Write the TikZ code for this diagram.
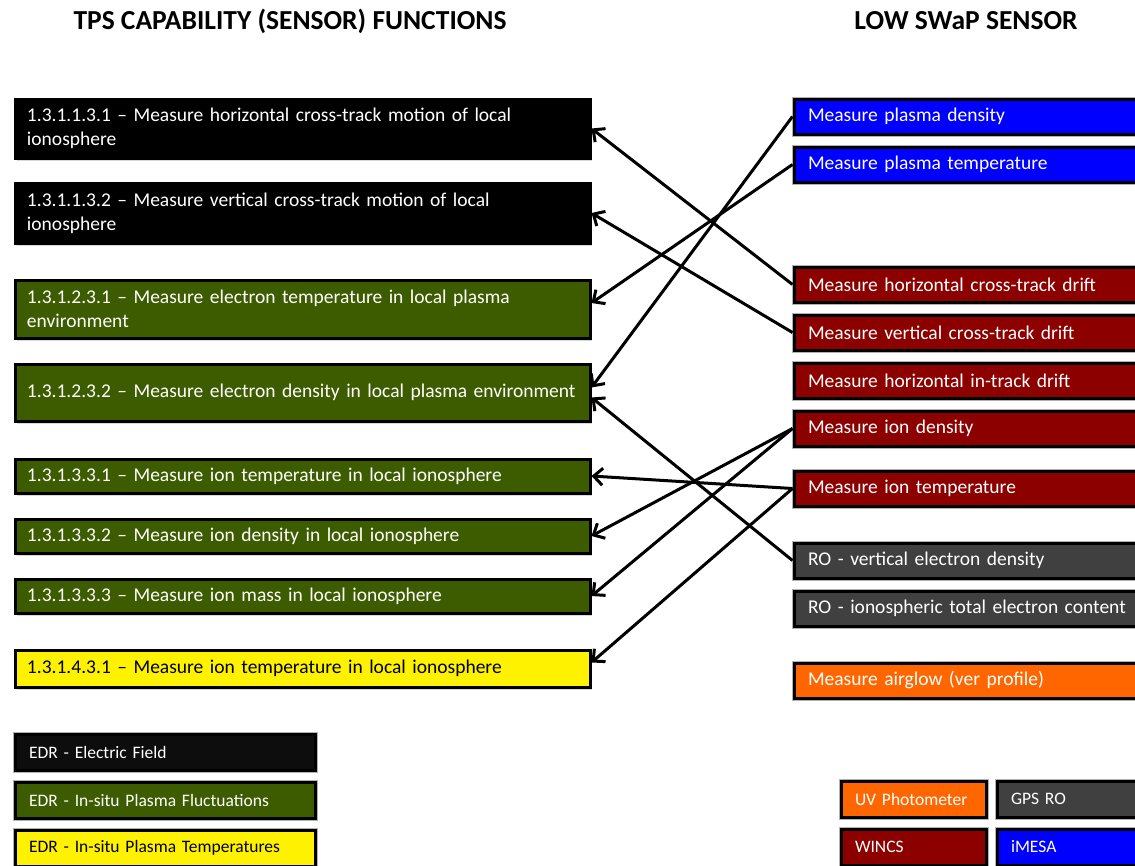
\documentclass[tikz,border=0pt]{standalone}
\usepackage{fontspec}
\setmainfont{Carlito}
\usetikzlibrary{arrows.meta,shadows}
\definecolor{edrblack}{HTML}{0D0D0D}
\definecolor{edrgreen}{HTML}{3D5C00}
\definecolor{wincsred}{HTML}{8C0000}
\definecolor{rogray}{HTML}{404040}
\definecolor{uvorange}{HTML}{FF6600}
\tikzset{
  func/.style={draw=black, line width=3pt, anchor=north west, align=left,
    inner xsep=12pt, text width=551pt, minimum width=575pt,
    font=\fontsize{19.5}{24}\selectfont,
    drop shadow={shadow xshift=2pt, shadow yshift=-3pt, fill=black!30}},
  sensor/.style={draw=black, line width=3pt, anchor=north west, align=left,
    inner xsep=14pt, text width=342pt, minimum width=370pt, minimum height=35pt,
    font=\fontsize{19.5}{24}\selectfont, text=white,
    preaction={draw=black!30, line width=5pt}},
  key/.style={draw=black, line width=3pt, anchor=north west, align=left,
    inner xsep=14pt, minimum height=36pt, font=\fontsize{17.5}{20}\selectfont,
    preaction={draw=black!30, line width=5pt}},
  title/.style={font=\fontsize{27.5}{32}\selectfont\bfseries},
  link/.style={-{Straight Barb[length=9pt,width=17pt]}, line width=3pt}
}
\begin{document}
\begin{tikzpicture}[x=1pt,y=-1pt]
\clip (0,0) rectangle (1135,865);
\node [title] (tpstitle) at (290,21) {TPS CAPABILITY (SENSOR) FUNCTIONS};
\node [title] (swaptitle) at (966,21) {LOW SWaP SENSOR};
% capability functions
\node [func,fill=black,text=white,minimum height=59pt] (horizmotion) at (13.5,97.5) {1.3.1.1.3.1 -- Measure horizontal cross-track motion of local\\ionosphere};
\node [func,fill=black,text=white,minimum height=60pt] (vertmotion) at (13.5,181.5) {1.3.1.1.3.2 -- Measure vertical cross-track motion of local\\ionosphere};
\node [func,fill=edrgreen,text=white,minimum height=58pt] (electemp) at (13.5,278.5) {1.3.1.2.3.1 -- Measure electron temperature in local plasma\\environment};
\node [func,fill=edrgreen,text=white,minimum height=57pt] (elecdens) at (13.5,362.5) {1.3.1.2.3.2 -- Measure electron density in local plasma environment};
\node [func,fill=edrgreen,text=white,minimum height=34pt] (iontemp) at (13.5,457.5) {1.3.1.3.3.1 -- Measure ion temperature in local ionosphere};
\node [func,fill=edrgreen,text=white,minimum height=34pt] (iondens) at (13.5,517.5) {1.3.1.3.3.2 -- Measure ion density in local ionosphere};
\node [func,fill=edrgreen,text=white,minimum height=34pt] (ionmass) at (13.5,577.5) {1.3.1.3.3.3 -- Measure ion mass in local ionosphere};
\node [func,fill=yellow,text=black,minimum height=37pt] (iontempb) at (13.5,648.5) {1.3.1.4.3.1 -- Measure ion temperature in local ionosphere};
% sensors
\node [sensor,fill=blue] (plasmadens) at (792.5,97.5) {Measure plasma density};
\node [sensor,fill=blue] (plasmatemp) at (792.5,145.5) {Measure plasma temperature};
\node [sensor,fill=wincsred] (horizdrift) at (792.5,265.5) {Measure horizontal cross-track drift};
\node [sensor,fill=wincsred] (vertdrift) at (792.5,313.5) {Measure vertical cross-track drift};
\node [sensor,fill=wincsred] (intrack) at (792.5,361.5) {Measure horizontal in-track drift};
\node [sensor,fill=wincsred] (iondensity) at (792.5,409.5) {Measure ion density};
\node [sensor,fill=wincsred] (iontemperature) at (792.5,469.5) {Measure ion temperature};
\node [sensor,fill=rogray] (rovert) at (792.5,541.5) {RO - vertical electron density};
\node [sensor,fill=rogray] (rotec) at (792.5,589.5) {RO - ionospheric total electron content};
\node [sensor,fill=uvorange] (airglow) at (792.5,661.5) {Measure airglow (ver profile)};
% legend
\node [key,fill=edrblack,text=white,text width=272pt] (keyfield) at (13.5,732.5) {EDR - Electric Field};
\node [key,fill=edrgreen,text=white,text width=272pt] (keyfluct) at (13.5,780.5) {EDR - In-situ Plasma Fluctuations};
\node [key,fill=yellow,text=black,text width=272pt] (keytemp) at (13.5,828.5) {EDR - In-situ Plasma Temperatures};
\node [key,fill=uvorange,text=white,text width=117pt] (keyuv) at (839.5,779.5) {UV Photometer};
\node [key,fill=rogray,text=white,text width=130pt] (keygps) at (995.5,779.5) {GPS RO};
\node [key,fill=wincsred,text=white,text width=117pt] (keywincs) at (839.5,827.5) {WINCS};
\node [key,fill=blue,text=white,text width=130pt] (keyimesa) at (995.5,827.5) {iMESA};
% links
\draw [link] (horizdrift.west) -- (horizmotion.east);
\draw [link] (vertdrift.west) -- (vertmotion.east);
\draw [link] (plasmatemp.west) -- ([yshift=6pt]electemp.east);
\draw [link] (plasmadens.west) -- ([yshift=5pt]elecdens.east);
\draw [link] (rovert.west) -- ([yshift=-5pt]elecdens.east);
\draw [link] (iontemperature.west) -- (iontemp.east);
\draw [link] (iondensity.west) -- (iondens.east);
\draw [link] (iondensity.west) -- (ionmass.east);
\draw [link] (iontemperature.west) -- ([yshift=6pt]iontempb.east);
\end{tikzpicture}
\end{document}
